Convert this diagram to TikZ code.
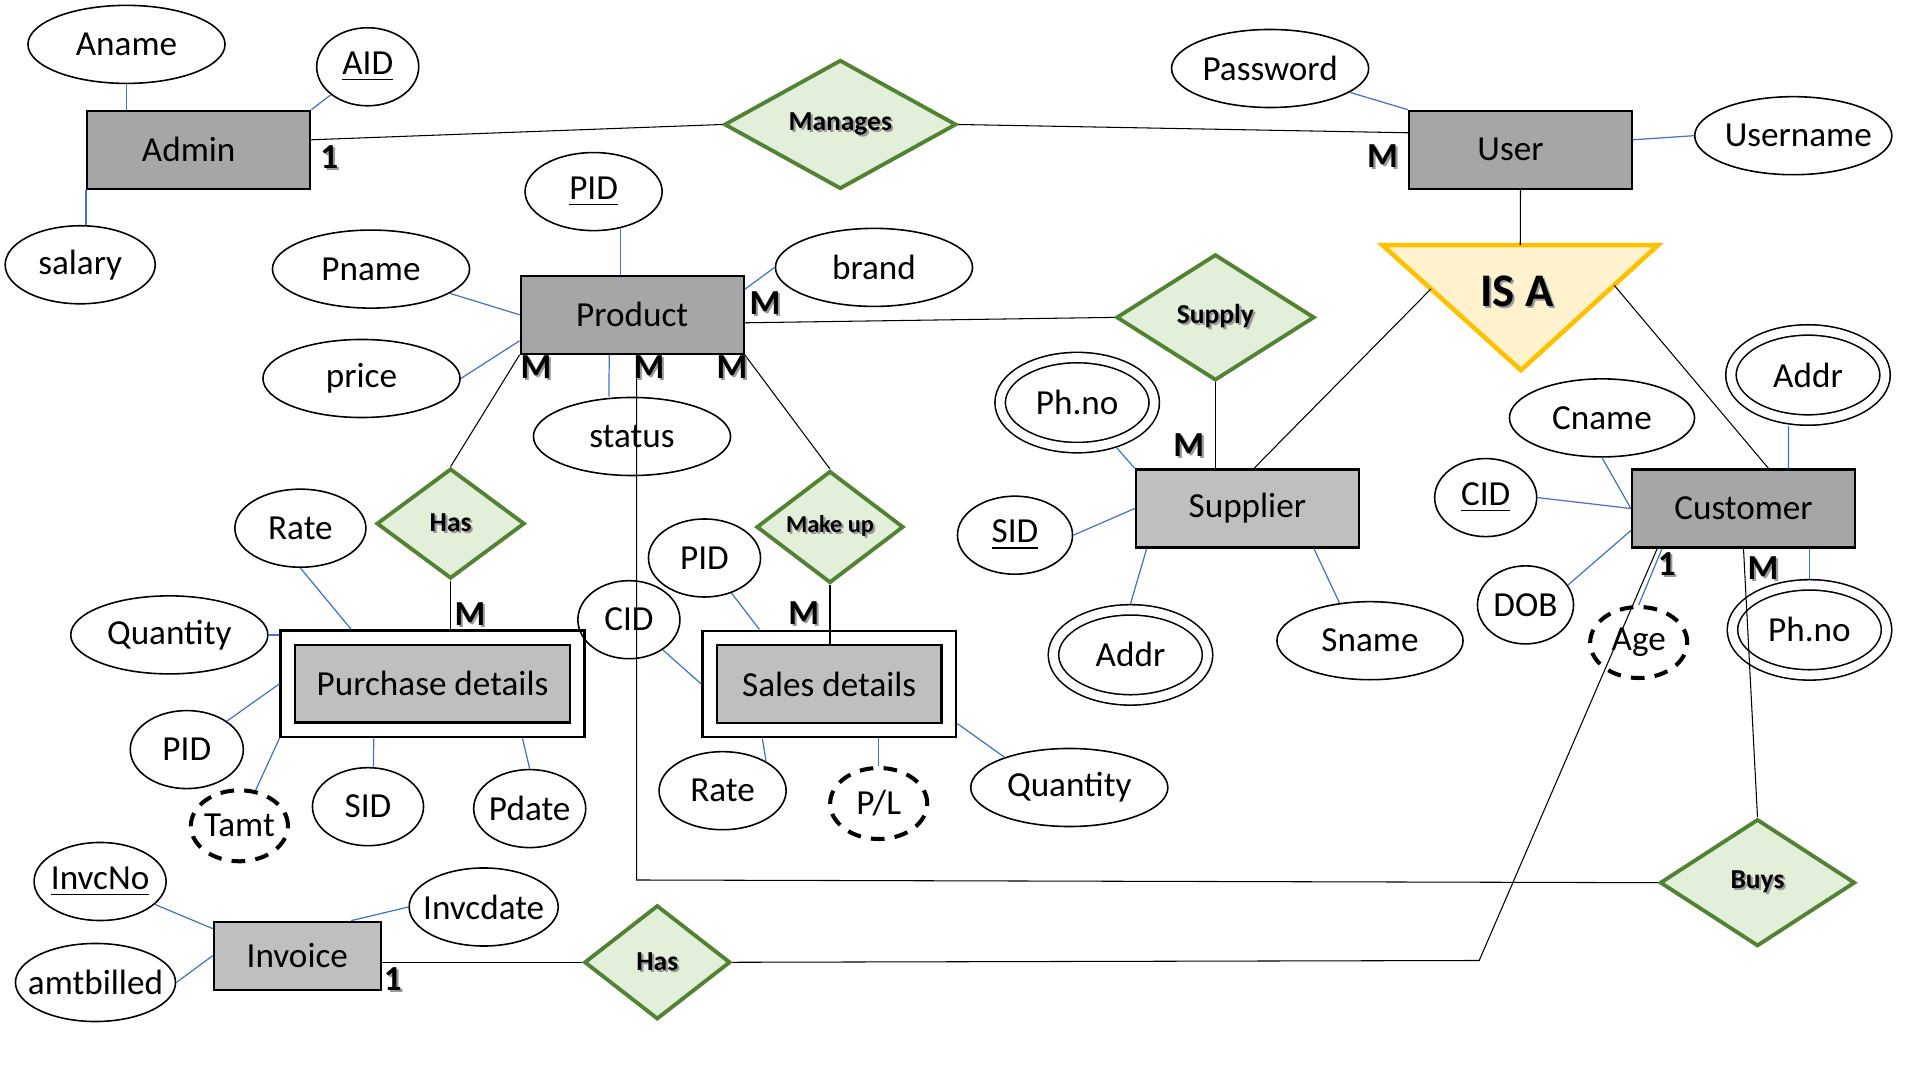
\documentclass[tikz,border=0pt]{standalone}
\usepackage{fontspec}
\setmainfont{Carlito}
\usetikzlibrary{shapes.geometric,calc}

\definecolor{entdark}{HTML}{A6A6A6}
\definecolor{entlight}{HTML}{BFBFBF}
\definecolor{relfill}{HTML}{E2F0D9}
\definecolor{reldraw}{HTML}{548235}
\definecolor{isafill}{HTML}{FFF2CC}
\definecolor{isadraw}{HTML}{FFC000}
\definecolor{attrline}{HTML}{4472C4}

\newcommand{\txtfont}{\fontsize{10}{12}\selectfont}
\newcommand{\shtext}[1]{\makebox[0pt][l]{\kern0.6pt\raisebox{-0.6pt}{\color{black!40}#1}}#1}

\begin{document}
\begin{tikzpicture}
          [x = 0.01cm, y = -0.01cm,
           ent/.style = {draw, line width = 0.6pt, fill = entdark, inner sep = 0pt,
                         minimum width = 2.23cm, minimum height = 0.78cm, font = \txtfont},
           entl/.style = {ent, fill = entlight},
           weak/.style = {draw, line width = 0.7pt, fill = entlight, double, double distance = 3.4pt,
                          inner sep = 0pt, outer sep = 2.4pt, minimum height = 0.92cm, font = \txtfont},
           attr/.style = {draw, ellipse, line width = 0.45pt, inner xsep = -4pt, inner ysep = 0pt,
                          minimum width = 1.97cm, minimum height = 0.78cm, font = \txtfont},
           multi/.style = {attr, double, double distance = 2.5pt, outer sep = 1.75pt,
                           minimum width = 1.54cm, minimum height = 0.9cm},
           derived/.style = {attr, line width = 1.15pt, dash pattern = on 3.9pt off 2.9pt,
                             minimum width = 0.97cm, minimum height = 0.71cm},
           rel/.style = {diamond, draw = reldraw, fill = relfill, line width = 1.1pt, aspect = 1.3,
                         inner sep = 0pt, font = \fontsize{7.8}{9}\selectfont\bfseries},
           isatri/.style = {draw = isadraw, fill = isafill, line width = 1.3pt, line join = miter},
           card/.style = {inner sep = 0pt, font = \txtfont\bfseries},
           link/.style = {line width = 0.3pt},
           aline/.style = {attrline, line width = 0.35pt}]
          \useasboundingbox (0,0) rectangle (1920,1080);

          % entities
          \node[ent] (admin) at (198.7,149.8) {Admin\hspace*{0.2cm}};
          \node[ent] (user) at (1520.5,149.8) {User\hspace*{0.2cm}};
          \node[ent] (product) at (632.2,314.8) {Product};
          \node[entl] (supplier) at (1247.4,508.5) {Supplier};
          \node[ent] (customer) at (1743.5,508.5) {Customer};
          \node[entl, minimum width = 1.67cm, minimum height = 0.68cm] (invoice) at (297.3,955.7) {Invoice};
          \node[weak, minimum width = 2.89cm] (purchase) at (432.5,683.8) {Purchase details};
          \node[weak, minimum width = 2.39cm] (sales) at (829.2,684) {Sales details};

          % relationships
          \node[rel, minimum width = 2.32cm, minimum height = 1.29cm] (manages) at (840.3,124.5) {\shtext{Manages}};
          \node[rel, minimum width = 1.98cm, minimum height = 1.26cm] (supply) at (1215.4,317.4) {\shtext{Supply}};
          \node[rel, minimum width = 1.48cm, minimum height = 1.10cm] (phas) at (450.6,523.6) {\shtext{Has}};
          \node[rel, minimum width = 1.47cm, minimum height = 1.12cm,
                font = \fontsize{6.9}{8}\selectfont\bfseries] (makeup) at (830,527) {\shtext{Make up}};
          \node[rel, minimum width = 1.46cm, minimum height = 1.14cm] (ihas) at (657.3,962.3) {\shtext{Has}};
          \node[rel, minimum width = 1.95cm, minimum height = 1.27cm] (buys) at (1757.5,882.7) {\shtext{Buys}};

          % is a
          \coordinate (isa-l) at (1382.5,245.2);
          \coordinate (isa-r) at (1658,245.2);
          \coordinate (isa-b) at (1520.9,370.2);
          \draw[isatri] (isa-l) -- (isa-r) -- (isa-b) -- cycle;
          \node[font = \fontsize{13.3}{16}\selectfont\bfseries] (isa) at (1517,292.7) {\shtext{IS A}};

          % attributes
          \node[attr] (aname) at (126.5,44.4) {Aname};
          \node[attr, minimum width = 1.02cm] (aid) at (367.7,66.8) {\underline{AID}};
          \node[attr, minimum width = 1.5cm] (salary) at (80.2,264.8) {salary};
          \node[attr, minimum width = 1.37cm] (pid) at (593.6,191.6) {\underline{PID}};
          \node[attr] (pname) at (371,269.1) {Pname};
          \node[attr] (price) at (361.5,378.5) {price};
          \node[attr] (brand) at (874,267.4) {brand};
          \node[attr] (status) at (632,436.5) {status};
          \node[attr] (password) at (1270.1,68.5) {Password};
          \node[attr] (username) at (1793.3,135.7) {\hspace*{0.1cm}Username};
          \node[multi] (phno1) at (1077.2,402.6) {Ph.no};
          \node[attr, minimum width = 1.15cm] (sid) at (1015,535.2) {\underline{SID}};
          \node[multi] (addr1) at (1130.5,654.9) {Addr};
          \node[attr, minimum width = 1.86cm] (sname) at (1370,640.7) {Sname};
          \node[attr, minimum width = 1.85cm] (cname) at (1602,417.9) {Cname};
          \node[multi] (addr2) at (1808,375) {Addr};
          \node[attr, minimum width = 1.02cm] (cid) at (1485.7,497.6) {\underline{CID}};
          \node[attr, minimum width = 0.96cm] (dob) at (1525.5,604.9) {DOB};
          \node[derived] (age) at (1638.7,642.5) {Age};
          \node[multi] (phno2) at (1809.5,629.9) {Ph.no};
          \node[attr, minimum width = 1.31cm] (prate) at (300.4,528.2) {Rate};
          \node[attr] (pqty) at (169.3,634.9) {Quantity};
          \node[attr, minimum width = 1.13cm] (ppid) at (186.8,749.6) {PID};
          \node[derived] (tamt) at (239.4,825.8) {Tamt};
          \node[attr, minimum width = 1.11cm] (psid) at (368,806.7) {SID};
          \node[attr, minimum width = 1.12cm] (pdate) at (529.7,808.6) {Pdate};
          \node[attr, minimum width = 1.02cm] (scid) at (628.9,619.7) {CID};
          \node[attr, minimum width = 1.12cm] (spid) at (704.5,558) {PID};
          \node[attr, minimum width = 1.27cm] (srate) at (722.6,790.7) {Rate};
          \node[derived] (pl) at (878.7,803.5) {P/L};
          \node[attr] (sqty) at (1069.3,787.5) {Quantity};
          \node[attr, minimum width = 1.32cm] (invcno) at (100.1,881.5) {\underline{InvcNo}};
          \node[attr, minimum width = 1.49cm] (invcdate) at (483.7,907) {Invcdate};
          \node[attr, minimum width = 1.6cm] (amtbilled) at (95.5,982.5) {amtbilled};

          % relationship lines
          \draw[link] ([yshift = 0.1cm]admin.east) -- (manages.west);
          \draw[link] (manages.east) -- ([yshift = 0.17cm]user.west);
          \draw[link] ([yshift = -0.08cm]product.east) -- (supply.west);
          \draw[link] (supply.south) -- (supply.south |- supplier.north);
          \draw[link] (product.south west) -- (phas.north);
          \draw[link] (phas.south) -- (phas.south |- purchase.north);
          \draw[link] (product.south east) -- (makeup.north);
          \draw[link] (makeup.south) -- ($(makeup.south |- sales.north) + (0,14.5)$);
          \draw[link] (user.south) -- ($(isa-l)!0.5!(isa-r)$);
          \draw[link] ($(isa-l)!0.35!(isa-b)$) -- ([xshift = 0.065cm]supplier.north);
          \draw[link] ($(isa-r)!0.32!(isa-b)$) -- ([xshift = 0.25cm]customer.north);
          \coordinate (buycorner) at (636.7,880);
          \draw[link] (product.south -| buycorner) -- (buycorner) -- (buys.west);
          \draw[link] (customer.south) -- (buys.north);
          \draw[link] (invoice.east |- ihas.west) -- (ihas.west);
          \coordinate (hascorner) at (1479.2,960.5);
          \draw[link] (ihas.east) -- (hascorner) -- ([xshift = 0.263cm]customer.south west);

          % attribute lines
          \draw[aline] (aname.south) -- (aname.south |- admin.north);
          \draw[aline] (aid) -- (admin.north east);
          \draw[aline] (admin.south west) -- (admin.south west |- salary.north);
          \draw[aline] (pid.-54) -- (pid.-54 |- product.north);
          \draw[aline] (pname) -- (product.west);
          \draw[aline] (price.east) -- ([yshift = -0.26cm]product.west);
          \draw[aline] (brand.west) -- ([yshift = 0.255cm]product.east);
          \draw[aline] ($(product.south) + (-23,0)$) -- ($(status.north) + (-23,0)$);
          \draw[aline] (password) -- (user.north west);
          \draw[aline] (username.west) -- ($(user.east) + (0,-10)$);
          \draw[aline] (phno1) -- (supplier.north west);
          \draw[aline] (sid.east) -- (supplier.west);
          \draw[aline] ($(supplier.south) + (-100.7,0)$) -- (addr1.north);
          \draw[aline] ($(supplier.south) + (66.5,0)$) -- (sname.129);
          \draw[aline] (cname.south) -- (customer.west);
          \draw[aline] (cid.east) -- (customer.west);
          \draw[aline] ($(customer.north) + (45,0)$) -- ($(addr2.south) + (-19.6,0)$);
          \draw[aline] ($(customer.west) + (0,22)$) -- (dob.25);
          \draw[aline] ($(customer.south west) + (31.2,0)$) -- (age.north);
          \draw[aline] (phno2.north |- customer.south) -- (phno2.north);
          \draw[aline] (prate.south) -- ($(purchase.north) + (-81.4,0)$);
          \draw[aline] (pqty.east) -- (pqty.east -| purchase.west);
          \draw[aline] (ppid) -- (purchase.west);
          \draw[aline] (purchase.south west) -- (tamt);
          \draw[aline] ($(purchase.south) + (-58.8,0)$) -- ($(psid.north) + (5.5,0)$);
          \draw[aline] ($(purchase.south) + (90,0)$) -- (pdate.north);
          \draw[aline] (scid) -- (sales.west);
          \draw[aline] (spid) -- ($(sales.north) + (-69.7,0)$);
          \draw[aline] ($(sales.south) + (-66.9,0)$) -- (srate.34);
          \draw[aline] (pl.north |- sales.south) -- (pl.north);
          \draw[aline] ($(sales.south east) + (0,-15)$) -- (sqty.155);
          \draw[aline] (invcno) -- ($(invoice.north west) + (0,8)$);
          \draw[aline] (invcdate.west) -- ($(invoice.north) + (54,0)$);
          \draw[aline] (amtbilled.east) -- (invoice.west);

          % cardinalities
          \node[card] (c-admin) at (329.4,158.4) {\shtext{1}};
          \node[card] (c-user) at (1382.5,156.7) {\shtext{M}};
          \node[card] (c-psup) at (765,304) {\shtext{M}};
          \node[card] (c-phas) at (536,368.5) {\shtext{M}};
          \node[card] (c-pbuy) at (649,368.5) {\shtext{M}};
          \node[card] (c-pmak) at (732,368.5) {\shtext{M}};
          \node[card] (c-purch) at (470,614.8) {\shtext{M}};
          \node[card] (c-sales) at (803.7,614) {\shtext{M}};
          \node[card] (c-supp) at (1188.8,446.3) {\shtext{M}};
          \node[card] (c-chas) at (1666.7,565) {\shtext{1}};
          \node[card] (c-cbuy) at (1763,568.9) {\shtext{M}};
          \node[card] (c-invc) at (392.8,980) {\shtext{1}};
        \end{tikzpicture}
\end{document}
